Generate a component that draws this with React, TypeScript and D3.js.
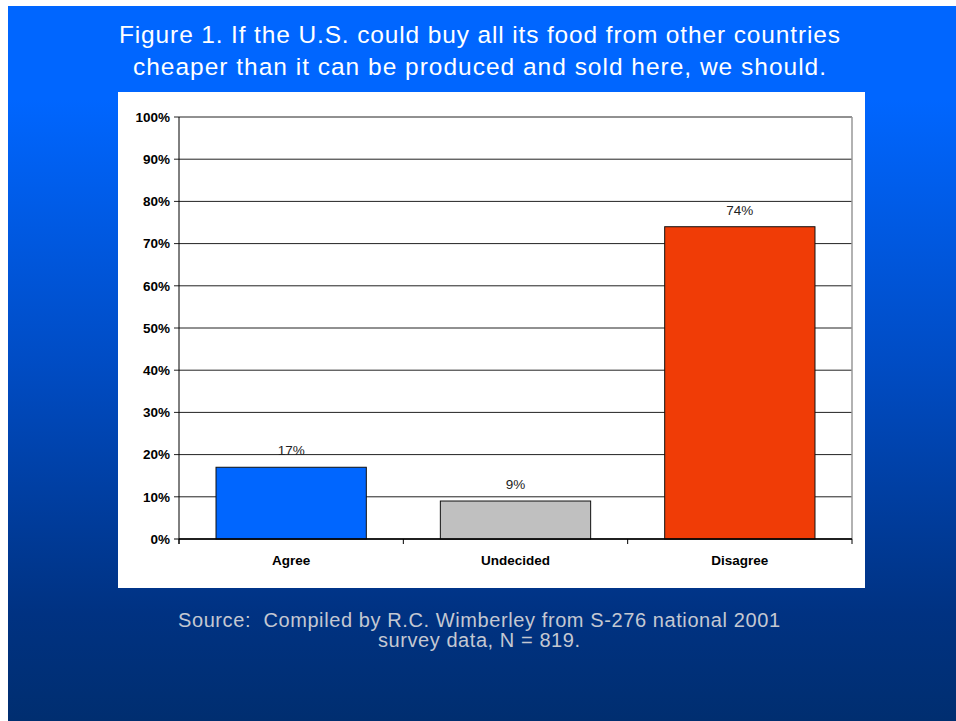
import React from "react";
import * as d3 from "d3";

const categories = ["Agree", "Undecided", "Disagree"];
const values = [17, 9, 74];
const barColors = ["#0066ff", "#c0c0c0", "#f03c06"];
const yTicks = [0, 10, 20, 30, 40, 50, 60, 70, 80, 90, 100];
const titleLines = [
  "Figure 1. If the U.S. could buy all its food from other countries",
  "cheaper than it can be produced and sold here, we should.",
];
const titleWidths = [721, 693];
const sourceLines = [
  "Source:  Compiled by R.C. Wimberley from S-276 national 2001",
  "survey data, N = 819.",
];
const sourceWidths = [602, 202];

export default function App() {
  const W = 956;
  const H = 721;
  const plot = { left: 179, right: 852, top: 117, bottom: 539 };
  const x = d3
    .scaleBand<string>()
    .domain(categories)
    .range([plot.left, plot.right])
    .paddingInner(0.33)
    .paddingOuter(0.165);
  const y = d3.scaleLinear().domain([0, 100]).range([plot.bottom, plot.top]);
  const band = (plot.right - plot.left) / categories.length;
  const font = "'Liberation Sans', Arial, Helvetica, sans-serif";

  return (
    <svg
      width={W}
      height={H}
      style={{ position: "absolute", left: 0, top: 0 }}
      fontFamily={font}
    >
      <defs>
        <linearGradient id="bg" x1="0" y1="0" x2="0" y2="1">
          <stop offset="0" stopColor="#0066ff" />
          <stop offset="0.13" stopColor="#0066ff" />
          <stop offset="0.5" stopColor="#004cc4" />
          <stop offset="0.85" stopColor="#003282" />
          <stop offset="1" stopColor="#002e70" />
        </linearGradient>
      </defs>
      <rect x={0} y={0} width={W} height={H} fill="#fff" />
      <rect x={8} y={6} width={W - 8} height={H - 6} fill="url(#bg)" />

      {titleLines.map((t, i) => (
        <text
          key={i}
          x={479.5}
          y={43 + i * 32}
          textAnchor="middle"
          fill="#fff"
          fontSize={24.5}
          textLength={titleWidths[i]}
          lengthAdjust="spacing"
        >
          {t}
        </text>
      ))}

      <rect x={118} y={92} width={747} height={496} fill="#fff" />

      {/* gridlines */}
      {yTicks.map((t) => (
        <g key={t}>
          <line
            x1={plot.left - 5}
            x2={plot.right}
            y1={y(t)}
            y2={y(t)}
            stroke={t === 0 ? "#000" : "#222"}
            strokeWidth={1}
          />
          <text
            x={170}
            y={y(t)}
            dy="0.35em"
            textAnchor="end"
            fontSize={13.5}
            fontWeight="bold"
            fill="#000"
          >
            {t}%
          </text>
        </g>
      ))}
      <line
        x1={plot.right}
        x2={plot.right}
        y1={plot.top}
        y2={plot.bottom}
        stroke="#999"
        strokeWidth={1.5}
      />

      {/* bars */}
      {categories.map((c, i) => (
        <g key={c}>
          <rect
            x={x(c)!}
            y={y(values[i])}
            width={x.bandwidth()}
            height={plot.bottom - y(values[i])}
            fill={barColors[i]}
            stroke="#111"
            strokeWidth={1}
          />
          <text
            x={x(c)! + x.bandwidth() / 2}
            y={y(values[i]) - 12}
            textAnchor="middle"
            fontSize={13.5}
            fill="#222"
          >
            {values[i]}%
          </text>
          <text
            x={x(c)! + x.bandwidth() / 2}
            y={565}
            textAnchor="middle"
            fontSize={13.5}
            fontWeight="bold"
            fill="#000"
          >
            {c}
          </text>
        </g>
      ))}

      {/* axes */}
      <line
        x1={plot.left}
        x2={plot.left}
        y1={plot.top}
        y2={plot.bottom + 5}
        stroke="#000"
        strokeWidth={1}
      />
      <line
        x1={plot.left}
        x2={plot.right}
        y1={plot.bottom}
        y2={plot.bottom}
        stroke="#000"
        strokeWidth={1.5}
      />
      {d3.range(categories.length + 1).map((i) => (
        <line
          key={i}
          x1={plot.left + i * band}
          x2={plot.left + i * band}
          y1={plot.bottom}
          y2={plot.bottom + 5}
          stroke="#000"
        />
      ))}

      {sourceLines.map((t, i) => (
        <text
          key={i}
          x={479}
          y={627 + i * 20}
          textAnchor="middle"
          fill="#c4c8d2"
          fontSize={20}
          textLength={sourceWidths[i]}
          lengthAdjust="spacing"
          style={{ whiteSpace: "pre" }}
        >
          {t}
        </text>
      ))}
    </svg>
  );
}
